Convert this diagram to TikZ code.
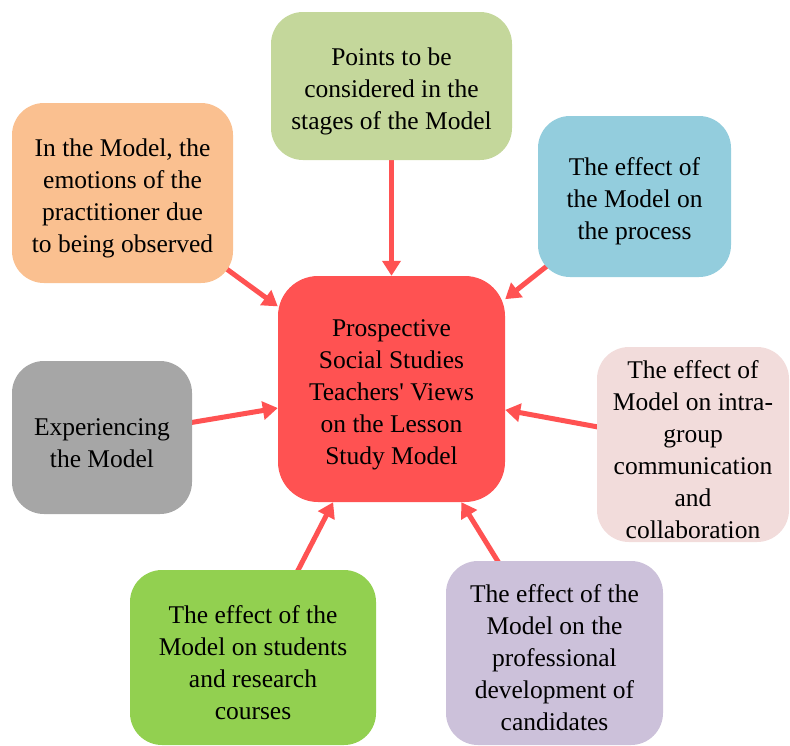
\documentclass[tikz,border=0pt]{standalone}
\usepackage{fontspec}
\setmainfont{Liberation Serif}
\usetikzlibrary{arrows.meta,backgrounds}
\definecolor{viewred}{HTML}{FF5252}
\definecolor{olivebox}{HTML}{C4D79B}
\definecolor{orangebox}{HTML}{FAC090}
\definecolor{aquabox}{HTML}{93CDDD}
\definecolor{greybox}{HTML}{A6A6A6}
\definecolor{pinkbox}{HTML}{F2DCDB}
\definecolor{greenbox}{HTML}{92D050}
\definecolor{lilacbox}{HTML}{CCC1DA}
\newcommand\textlift{\rule{0pt}{28pt}}
\tikzset{
	topic/.style={rounded corners=32pt, align=center, inner sep=0pt, font=\fontsize{25.5}{32}\selectfont},
	link/.style={line width=5pt, draw=viewred, -{Triangle[width=18pt,length=15pt]}}
}

\begin{document}
\begin{tikzpicture}[x=1pt,y=-1pt]
				\useasboundingbox (0,0) rectangle (790,745);
				
				\node[topic, fill=viewred, rounded corners=40pt, minimum width=227pt, minimum height=226pt] (ctr) at (391.5,389) {\textlift Prospective\\Social Studies\\Teachers\textquotesingle{} Views\\on the Lesson\\Study Model};
				
				\node[topic, fill=olivebox, minimum width=241pt, minimum height=148pt] (pts) at (391.5,86) {\textlift Points to be\\considered in the\\stages of the Model};
				\node[topic, fill=orangebox, minimum width=221pt, minimum height=180pt] (emo) at (122.5,193) {\textlift In the Model, the\\emotions of the\\practitioner due\\to being observed};
				\node[topic, fill=aquabox, minimum width=193pt, minimum height=161pt] (proc) at (634.5,196.5) {\textlift The effect of\\the Model on\\the process};
				\node[topic, fill=greybox, minimum width=180pt, minimum height=153pt] (exper) at (102,437.5) {\textlift Experiencing\\the Model};
				\node[topic, fill=pinkbox, minimum width=192pt, minimum height=195pt] (comm) at (693,444.5) {\textlift The effect of\\Model on intra-\\group\\communication\\and\\collaboration};
				\node[topic, fill=greenbox, minimum width=246pt, minimum height=175pt] (stud) at (253,657.5) {\textlift The effect of the\\Model on students\\and research\\courses};
				\node[topic, fill=lilacbox, minimum width=217pt, minimum height=184pt] (prof) at (554.5,653) {\textlift The effect of the\\Model on the\\professional\\development of\\candidates};
				
				% arrows run from box centres, hidden under the fills
				\begin{scope}[on background layer]
					\foreach \src in {pts,emo,proc,exper,comm,stud,prof}
						\draw[link] (\src.center) -- (ctr);
				\end{scope}
\end{tikzpicture}
\end{document}
